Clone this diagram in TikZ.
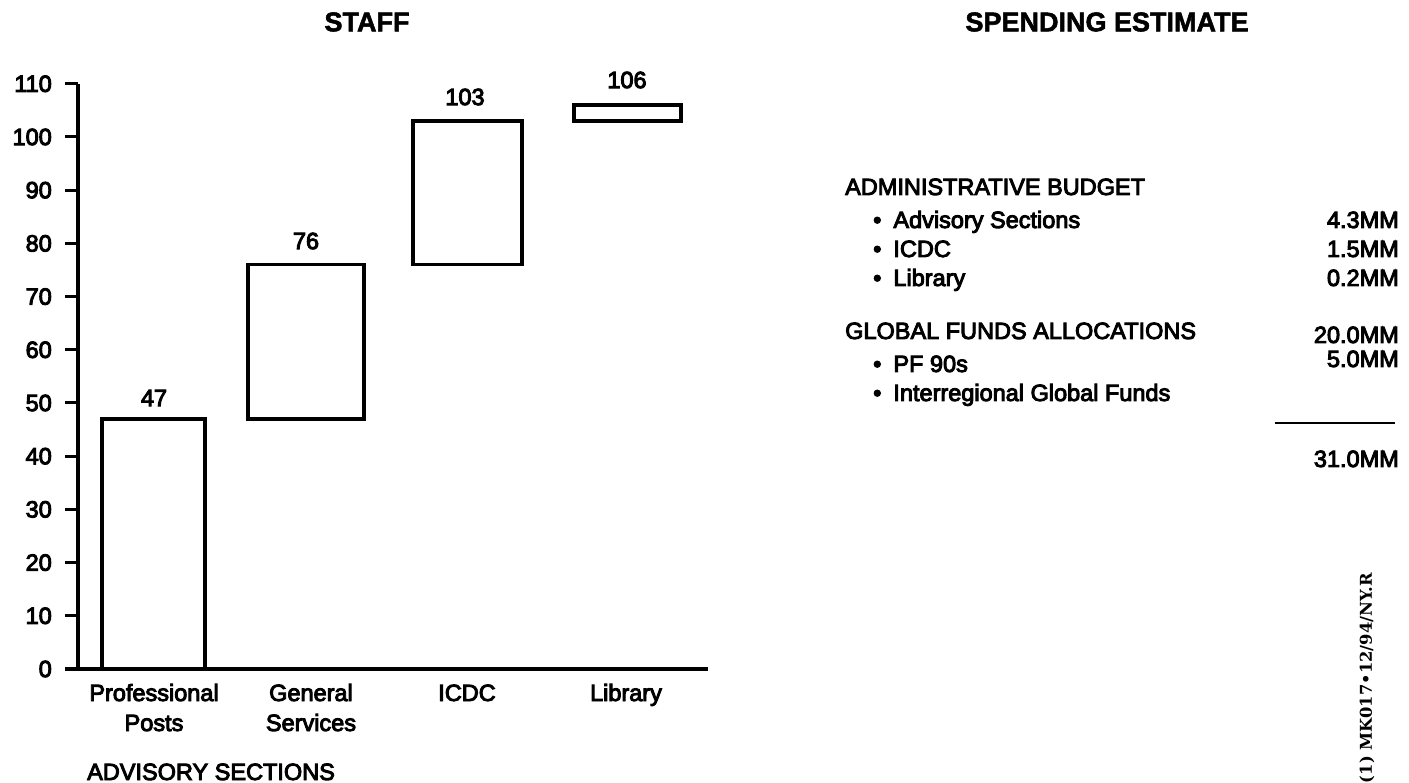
\documentclass[tikz,border=0pt]{standalone}
\usepackage{fontspec}
\setmainfont{Liberation Sans}
\newfontfamily\medfont{Liberation Sans}[FakeBold=4]
\newfontfamily\ttlfont{Liberation Sans Bold}[FakeBold=2]
\newfontfamily\stampfont{DejaVu Serif Bold}
\begin{document}
\begin{tikzpicture}[x=1pt,y=-1pt,
  lbl/.style={inner sep=0pt, font=\medfont\fontsize{23.5}{27}\selectfont},
  ttl/.style={inner sep=0pt, font=\ttlfont\fontsize{27}{30}\selectfont},
  rt/.style={inner sep=0pt, font=\medfont\fontsize{23.5}{28}\selectfont},
  barbox/.style={draw=black, line width=3.5pt},
  axisln/.style={line width=3.5pt},
  tickln/.style={line width=3pt},
  sumln/.style={line width=2.5pt},
]
\useasboundingbox (0,0) rectangle (1409,783);

% titles
\node[ttl] (staff) at (367,22) {STAFF};
\node[ttl] (spend) at (1107,22) {SPENDING ESTIMATE};

% axes
\coordinate (ytop) at (78,84);
\coordinate (origin) at (78,669);
\coordinate (xstart) at (65,669);
\coordinate (xend) at (708,669);
\draw[axisln] (ytop) -- (origin);
\draw[axisln] (xstart) -- (xend);
\foreach \v in {10,20,...,110}{
  \pgfmathsetmacro\yy{669-5.32*\v}
  \coordinate (tk\v) at (65,\yy);
  \coordinate (ta\v) at (78,\yy);
  \draw[tickln] (tk\v) -- (ta\v);
}
\foreach \v in {0,10,...,110}{
  \pgfmathsetmacro\yy{669-5.32*\v}
  \node[lbl, anchor=east] (yl\v) at (52,\yy) {\v};
}

% bars
\draw[barbox] (102,419.0) rectangle (205,669);
\draw[barbox] (248,264.7) rectangle (364,419.0);
\draw[barbox] (413,121.0) rectangle (522,264.7);
\draw[barbox] (574,105.1) rectangle (681,121.0);

\node[lbl] (v47) at (154,398) {47};
\node[lbl] (v76) at (306,241) {76};
\node[lbl] (v103) at (465,97) {103};
\node[lbl] (v106) at (627,80) {106};

% x labels
\node[lbl, anchor=base] (xl1a) at (154,701) {Professional};
\node[lbl, anchor=base] (xl1b) at (154,731) {Posts};
\node[lbl, anchor=base] (xl2a) at (311,701) {General};
\node[lbl, anchor=base] (xl2b) at (311,731) {Services};
\node[lbl, anchor=base] (xl3) at (467,701) {ICDC};
\node[lbl, anchor=base] (xl4) at (626,701) {Library};
\node[lbl, anchor=base west] (advs) at (87,780) {ADVISORY SECTIONS};

% spending estimate
\node[rt, anchor=base west] (adm) at (845,195) {ADMINISTRATIVE BUDGET};
\node[rt, anchor=base west] (a1) at (873,228) {•\hspace{12pt}Advisory Sections};
\node[rt, anchor=base west] (a2) at (873,257) {•\hspace{12pt}ICDC};
\node[rt, anchor=base west] (a3) at (873,286) {•\hspace{12pt}Library};
\node[rt, anchor=base east] (n1) at (1399,228) {4.3MM};
\node[rt, anchor=base east] (n2) at (1399,257) {1.5MM};
\node[rt, anchor=base east] (n3) at (1399,286) {0.2MM};

\node[rt, anchor=base west] (gfa) at (845,339) {GLOBAL FUNDS ALLOCATIONS};
\node[rt, anchor=base east] (n4) at (1399,343) {20.0MM};
\node[rt, anchor=base west] (g1) at (873,372) {•\hspace{12pt}PF 90s};
\node[rt, anchor=base east] (n5) at (1399,367) {5.0MM};
\node[rt, anchor=base west] (g2) at (873,401) {•\hspace{12pt}Interregional Global Funds};

\coordinate (sumL) at (1275,423);
\coordinate (sumR) at (1395,423);
\draw[sumln] (sumL) -- (sumR);
\node[rt, anchor=base east] (tot) at (1399,467) {31.0MM};

% stamp
\node[rotate=90, inner sep=0pt, font=\stampfont\fontsize{16.3}{18}\selectfont] (stamp) at (1367,678) {(1) MK017•12/94/NY.R};
\end{tikzpicture}
\end{document}
